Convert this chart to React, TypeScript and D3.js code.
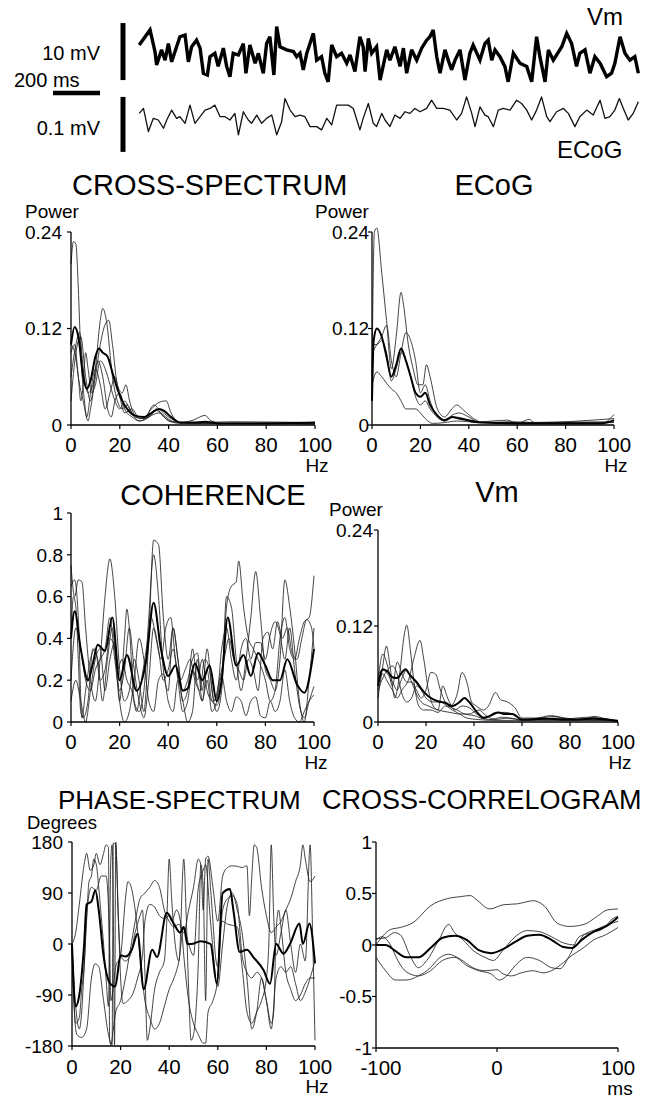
import React from 'react';
import * as d3 from 'd3';

type Pt = [number, number];
const FONT = '"Liberation Sans", Arial, Helvetica, sans-serif';

// ---------- top raw traces (time in ms, Vm in mV, ECoG in µV) ----------
const vmTrace: Pt[] = [
  [1,1.75],[47,4.4],[68,0.6],[75,-1.75],[96,0.9],[111,-0.9],[125,2.0],[139,-1.2],[160,1.45],[174,3.2],
  [196,3.5],[210,-1.2],[224,1.45],[245,2.6],[260,1.2],[274,-3.2],[291,-3.5],[302,-0.3],[323,0.3],[337,-2.0],
  [359,1.2],[373,-2.0],[387,-3.8],[401,0.3],[423,0],[444,2.0],[455,-3.2],[472,1.75],[494,-1.45],[508,0.3],
  [529,-3.2],[543,2.0],[557,3.2],[574,-3.5],[586,5.0],[600,1.45],[628,0.9],[657,0.6],[671,-0.3],[685,0.3],
  [699,-2.6],[714,0.3],[742,3.8],[756,-0.9],[777,-0.3],[791,-3.2],[805,-4.7],[820,1.75],[841,-0.3],[862,0.3],
  [884,-1.45],[898,0],[919,-2.9],[940,3.2],[954,1.45],[962,-2.9],[976,2.9],[990,0.3],[1011,1.45],[1026,-4.4],
  [1054,0.9],[1068,-0.9],[1089,1.45],[1111,-2.0],[1125,1.2],[1139,-3.2],[1160,0.9],[1182,-0.9],[1203,1.2],[1224,2.6],
  [1238,3.2],[1252,4.4],[1267,-0.3],[1281,-3.2],[1302,0.9],[1316,-0.9],[1330,-2.6],[1345,-0.9],[1366,0.9],[1387,-4.4],
  [1408,0.3],[1422,1.75],[1451,-0.9],[1472,2.0],[1486,2.6],[1501,-0.9],[1515,0.9],[1536,-0.3],[1557,-2.0],[1571,-4.7],
  [1593,0.3],[1621,-1.45],[1650,-2.0],[1671,-4.7],[1692,3.2],[1706,-0.3],[1728,-4.7],[1742,0.9],[1763,-0.9],[1799,1.45],
  [1820,3.8],[1841,2.0],[1862,-2.0],[1876,0.3],[1898,0.9],[1919,-3.2],[1940,-0.3],[1962,-1.45],[1990,-3.8],[2011,-3.2],
  [2025,-1.45],[2047,3.2],[2068,0.3],[2089,-0.9],[2110,-0.3],[2125,-3.2],
];

const ecogTrace: Pt[] = [
  [1,12],[19,21],[40,-21],[61,3],[82,0],[104,-15],[118,0],[139,18],[160,3],[174,6],
  [196,-6],[217,27],[238,-6],[260,6],[281,18],[302,21],[323,27],[345,6],[366,6],[387,0],
  [408,12],[423,-27],[444,15],[465,0],[479,-6],[501,9],[522,-6],[543,3],[565,9],[586,-27],
  [607,-3],[621,39],[643,18],[664,6],[685,9],[706,6],[728,-12],[756,-12],[777,-18],[799,3],
  [820,-9],[841,27],[869,27],[891,27],[912,21],[940,-18],[954,3],[976,30],[997,-6],[1011,-12],
  [1033,12],[1047,0],[1068,-12],[1089,9],[1111,3],[1132,15],[1153,12],[1174,21],[1196,15],[1224,21],
  [1245,36],[1267,21],[1295,21],[1323,18],[1352,0],[1373,12],[1394,42],[1416,12],[1430,-12],[1451,24],
  [1472,9],[1486,6],[1508,-12],[1529,18],[1550,21],[1579,18],[1607,36],[1628,30],[1650,18],[1671,0],
  [1692,18],[1713,42],[1735,6],[1749,-3],[1777,15],[1806,21],[1827,12],[1855,-12],[1876,6],[1905,18],
  [1933,9],[1962,36],[1983,3],[2004,6],[2025,18],[2044,39],[2061,21],[2082,0],[2103,12],[2125,33],
];

// ---------- CROSS-SPECTRUM (Hz, power) ----------
const cs1: Pt[] = [[0,0.2],[1,0.228],[2,0.225],[3,0.17],[4,0.09],[5.5,0.03],[6.5,0.01],[8,0.04],[10,0.07],[12,0.05],[14,0.02],[16,0.04],[18,0.06],[20,0.035],[22,0.015],[25,0.02],[28,0.008],[32,0.01],[35,0.018],[38,0.012],[42,0.004],[50,0.002],[60,0.002],[100,0.001]];
const cs2: Pt[] = [[0,0.03],[2,0.09],[4,0.11],[6,0.06],[8,0.03],[10,0.07],[12,0.13],[13,0.145],[14.5,0.13],[17,0.06],[19,0.03],[21,0.02],[23,0.025],[26,0.01],[30,0.008],[34,0.025],[36,0.02],[40,0.01],[45,0.003],[60,0.002],[100,0.002]];
const cs3: Pt[] = [[0,0.09],[1.5,0.1],[3,0.06],[5,0.03],[7,0.005],[8,0.02],[10,0.06],[12,0.1],[14,0.125],[15.5,0.13],[17,0.1],[19,0.05],[21,0.04],[22.5,0.05],[24,0.03],[27,0.01],[30,0.01],[33,0.02],[36,0.028],[39,0.03],[41,0.015],[45,0.003],[50,0.006],[55,0.012],[57,0.006],[62,0.002],[100,0.002]];
const cs4: Pt[] = [[0,0.1],[1.5,0.09],[3,0.06],[4,0.03],[5,0.05],[6,0.09],[7,0.07],[8.5,0.04],[10,0.05],[12,0.08],[14,0.07],[16,0.05],[18,0.03],[20,0.02],[22,0.03],[24,0.02],[28,0.005],[32,0.01],[35,0.02],[38,0.01],[42,0.004],[50,0.003],[66,0.004],[100,0.003]];
const cs5: Pt[] = [[0,0.06],[2,0.1],[3.5,0.115],[5,0.07],[7,0.04],[9,0.05],[11,0.08],[13,0.06],[15,0.02],[16.5,0.01],[18,0.03],[20,0.04],[22,0.02],[25,0.01],[28,0.005],[33,0.012],[36,0.015],[40,0.005],[45,0.002],[100,0.003]];
const csMean: Pt[] = [[0,0.1],[1.5,0.122],[3,0.11],[5,0.06],[6.5,0.045],[8,0.055],[10,0.085],[11.5,0.095],[13,0.09],[15,0.085],[17,0.065],[19,0.045],[21,0.03],[23,0.02],[26,0.012],[30,0.01],[33,0.015],[36,0.02],[38,0.018],[41,0.01],[45,0.003],[50,0.003],[55,0.004],[60,0.002],[80,0.002],[100,0.003]];

// ---------- ECoG power spectrum ----------
const eg1: Pt[] = [[0,0.06],[1,0.24],[2,0.245],[4,0.19],[6,0.13],[8,0.07],[10,0.11],[12,0.165],[13,0.15],[15,0.1],[17,0.07],[19,0.05],[21,0.05],[22.5,0.075],[24,0.06],[27,0.02],[30,0.01],[33,0.02],[35,0.025],[38,0.018],[42,0.008],[46,0.003],[100,0.003]];
const eg2: Pt[] = [[0,0.09],[2,0.1],[4,0.11],[6,0.124],[8,0.08],[10,0.06],[12,0.09],[14,0.115],[16,0.105],[18,0.08],[20,0.04],[22,0.05],[24,0.03],[27,0.01],[30,0.005],[34,0.01],[38,0.008],[42,0.003],[100,0.004]];
const eg3: Pt[] = [[0,0.05],[2,0.066],[4,0.06],[6,0.052],[8,0.045],[10,0.04],[12,0.03],[14,0.02],[16,0.02],[18,0.02],[20,0.015],[22,0.008],[25,0.002],[30,0.003],[35,0.005],[40,0.004],[45,0.003],[58,0.004],[66,0.003],[95,0.002],[100,0.013]];
const eg4: Pt[] = [[0,0.1],[2,0.1],[4,0.105],[6,0.09],[8,0.055],[10,0.07],[12,0.09],[14,0.08],[16,0.06],[18,0.035],[20,0.025],[22,0.03],[24,0.02],[27,0.01],[30,0.005],[33,0.012],[36,0.015],[40,0.01],[44,0.004],[56,0.006],[60,0.002],[65,0.007],[67,0.003],[100,0.008]];
const egMean: Pt[] = [[0,0.03],[0.7,0.105],[2,0.12],[4,0.11],[6,0.085],[8,0.06],[10,0.075],[12,0.095],[14,0.08],[16,0.06],[18,0.04],[20,0.035],[22,0.04],[24,0.025],[27,0.012],[30,0.006],[33,0.01],[36,0.008],[40,0.006],[45,0.003],[60,0.002],[95,0.002],[100,0.006]];

// ---------- COHERENCE ----------
const co1: Pt[] = [[0,0.75],[1.5,0.6],[3,0.68],[4.5,0.67],[6,0.45],[8,0.2],[10,0.1],[12,0.3],[14,0.6],[16,0.78],[18,0.6],[20,0.25],[22,0.1],[24,0.15],[26,0.3],[28,0.2],[30,0.05],[32,0.4],[34,0.87],[36,0.85],[38,0.5],[40,0.3],[42,0.45],[44,0.3],[46,0.1],[48,0.15],[50,0.35],[52,0.2],[54,0.3],[56,0.15],[58,0.1],[60,0.08],[62,0.2],[64,0.55],[66,0.65],[68,0.67],[69,0.77],[71,0.55],[73,0.4],[75,0.35],[77,0.3],[80,0.2],[82,0.1],[84,0.15],[86,0.4],[88,0.5],[90,0.35],[92,0.3],[94,0.4],[96,0.48],[98,0.5],[100,0.7]];
const co2: Pt[] = [[0,0.1],[2,0.2],[4,0.1],[6,0.0],[8,0.15],[10,0.3],[12,0.35],[14,0.15],[16,0.3],[18,0.38],[20,0.1],[22,0.0],[24,0.05],[26,0.2],[28,0.4],[30,0.3],[32,0.1],[34,0.05],[36,0.2],[38,0.23],[40,0.1],[42,0.05],[44,0.2],[46,0.1],[48,0.0],[50,0.05],[52,0.3],[54,0.1],[56,0.2],[58,0.05],[60,0.1],[62,0.22],[64,0.1],[66,0.05],[68,0.12],[70,0.1],[72,0.03],[74,0.1],[76,0.12],[78,0.03],[80,0.02],[82,0.1],[84,0.05],[86,0.1],[88,0.25],[90,0.1],[92,0.02],[94,0.0],[96,0.05],[98,0.1],[100,0.13]];
const co3: Pt[] = [[0,0.65],[1.5,0.68],[3,0.5],[4.5,0.02],[6,0.15],[8,0.3],[10,0.35],[12,0.2],[14,0.25],[16,0.4],[18,0.35],[20,0.1],[22,0.4],[23,0.54],[24,0.45],[26,0.1],[28,0.05],[30,0.15],[32,0.5],[34,0.8],[36,0.6],[38,0.25],[40,0.15],[42,0.45],[44,0.3],[46,0.15],[48,0.2],[50,0.3],[52,0.33],[54,0.15],[56,0.35],[58,0.15],[60,0.05],[62,0.15],[64,0.6],[66,0.55],[68,0.3],[70,0.15],[72,0.3],[74,0.5],[76,0.72],[78,0.5],[80,0.25],[82,0.2],[84,0.15],[86,0.3],[88,0.68],[90,0.55],[92,0.35],[94,0.1],[96,0.0],[98,0.2],[100,0.45]];
const co4: Pt[] = [[0,0.2],[2,0.45],[4,0.35],[6,0.2],[8,0.15],[10,0.25],[12,0.3],[14,0.35],[16,0.5],[18,0.3],[20,0.15],[22,0.25],[24,0.45],[26,0.25],[28,0.1],[30,0.02],[32,0.2],[34,0.45],[36,0.35],[38,0.2],[40,0.25],[42,0.35],[44,0.2],[46,0.05],[48,0.1],[50,0.25],[52,0.18],[54,0.1],[56,0.25],[58,0.1],[60,0.12],[62,0.35],[64,0.45],[66,0.3],[68,0.2],[70,0.35],[72,0.4],[74,0.3],[76,0.38],[78,0.38],[80,0.3],[82,0.42],[84,0.48],[86,0.42],[88,0.3],[90,0.45],[92,0.25],[94,0.08],[96,0.02],[98,0.1],[100,0.17]];
const co5: Pt[] = [[0,0.4],[1,0.6],[2,0.55],[3,0.3],[4,0.05],[5,0.02],[7,0.1],[9,0.35],[11,0.3],[13,0.1],[15,0.3],[17,0.45],[19,0.25],[21,0.3],[23,0.2],[25,0.15],[27,0.05],[29,0.2],[31,0.35],[33,0.5],[35,0.4],[37,0.3],[39,0.45],[41,0.5],[43,0.3],[45,0.2],[47,0.25],[49,0.3],[51,0.2],[53,0.15],[55,0.3],[57,0.25],[59,0.1],[61,0.2],[63,0.3],[65,0.4],[67,0.3],[69,0.25],[71,0.2],[73,0.3],[75,0.25],[77,0.15],[79,0.4],[81,0.43],[83,0.35],[85,0.48],[87,0.4],[89,0.45],[91,0.33],[93,0.3],[95,0.4],[97,0.49],[99,0.45],[100,0.35]];
const coMean: Pt[] = [[0,0.4],[1.5,0.53],[4,0.35],[7,0.2],[9,0.28],[11,0.37],[14,0.34],[17,0.5],[20,0.2],[23,0.32],[27,0.15],[31,0.3],[34,0.57],[37,0.35],[40,0.22],[43,0.27],[46,0.15],[48,0.16],[51,0.28],[54,0.2],[57,0.27],[60,0.1],[62,0.2],[64.5,0.5],[68,0.27],[71,0.32],[74,0.22],[77,0.33],[80,0.27],[83,0.2],[86,0.2],[89,0.3],[93,0.18],[96,0.14],[100,0.35]];

// ---------- Vm power spectrum ----------
const vp1: Pt[] = [[0,0.03],[2,0.07],[3.5,0.095],[5,0.07],[7,0.03],[9,0.06],[11,0.11],[12,0.121],[13.5,0.09],[15,0.05],[17,0.02],[19,0.015],[22,0.015],[25,0.012],[28,0.02],[31,0.015],[34,0.01],[37,0.005],[42,0.003],[48,0.002],[60,0.002],[70,0.004],[75,0.005],[80,0.003],[90,0.004],[100,0.001]];
const vp2: Pt[] = [[0,0.05],[2,0.06],[4,0.05],[6,0.04],[8,0.03],[10,0.04],[13,0.055],[15,0.08],[17.5,0.102],[19,0.08],[21,0.04],[23,0.02],[25,0.015],[27,0.045],[29,0.03],[32,0.015],[35,0.02],[38,0.018],[41,0.01],[45,0.006],[49,0.012],[53,0.012],[56,0.01],[60,0.003],[70,0.006],[74,0.007],[78,0.004],[88,0.006],[92,0.005],[100,0.001]];
const vp3: Pt[] = [[0,0.05],[2,0.085],[4,0.07],[6,0.045],[8,0.075],[10,0.06],[12,0.05],[14,0.05],[16,0.04],[18,0.03],[20,0.04],[22,0.062],[24,0.06],[26,0.04],[28,0.025],[30,0.02],[33,0.035],[35,0.062],[37,0.05],[39,0.025],[41,0.02],[44,0.015],[46,0.02],[49,0.037],[51,0.028],[54,0.025],[57,0.018],[60,0.005],[66,0.005],[72,0.008],[76,0.006],[85,0.003],[90,0.007],[95,0.004],[100,0.002]];
const vp4: Pt[] = [[0,0.04],[2,0.055],[4,0.065],[6,0.07],[8,0.06],[10,0.035],[12,0.025],[14,0.03],[16,0.045],[18,0.04],[20,0.03],[23,0.025],[26,0.025],[29,0.02],[33,0.015],[36,0.01],[40,0.008],[44,0.004],[48,0.003],[55,0.005],[60,0.002],[100,0.002]];
const vp5: Pt[] = [[0,0.06],[2,0.065],[4,0.06],[6,0.05],[8,0.04],[10,0.055],[12,0.065],[14,0.05],[16,0.035],[18,0.025],[21,0.02],[25,0.015],[30,0.012],[34,0.01],[38,0.01],[42,0.015],[45,0.008],[48,0.004],[52,0.006],[56,0.004],[60,0.003],[100,0.002]];
const vpMean: Pt[] = [[0,0.045],[2,0.066],[4,0.063],[6,0.056],[8,0.055],[10,0.062],[11.5,0.066],[13,0.06],[16,0.05],[19,0.038],[22,0.03],[25,0.026],[28,0.024],[31,0.02],[34,0.025],[36,0.03],[38,0.025],[41,0.013],[44,0.005],[47,0.008],[50,0.012],[53,0.01],[56,0.01],[60,0.003],[70,0.004],[80,0.003],[90,0.004],[100,0.001]];

// ---------- PHASE-SPECTRUM (degrees) ----------
const ph1: Pt[] = [[0,0],[1.5,20],[3,70],[5,140],[6,160],[7.5,130],[9,140],[10,160],[11.5,140],[13,160],[14,175],[15,170],[15.5,-170],[16,-178],[17,-150],[18,-120],[20,-100],[22,-60],[24,-10],[26,40],[28,80],[30,90],[32,100],[34,112],[36,100],[38,60],[40,40],[42,30],[44,35],[46,20],[48,60],[50,100],[52,150],[53,140],[54,60],[55,150],[56,155],[58,100],[60,40],[62,120],[64,135],[66,138],[68,137],[70,135],[72,138],[73,50],[74,120],[75,175],[76,170],[78,100],[80,50],[82,20],[84,30],[86,40],[88,60],[90,80],[92,110],[94,140],[95,175],[96,150],[98,110],[100,120]];
const ph2: Pt[] = [[0,0],[1,-120],[2,-160],[4,-165],[6,-150],[8,-60],[9.5,-35],[11,-40],[13,-100],[15,-160],[16.5,-178],[17,178],[18,175],[19,60],[20,-60],[21,-105],[23,-100],[25,-88],[27,-60],[29,-20],[30,40],[32,70],[34,65],[36,50],[38,45],[40,50],[41,40],[43,60],[45,30],[46,-20],[48,-100],[50,-140],[52,-160],[54,-175],[55,-175],[56,-120],[58,-100],[60,-60],[62,60],[64,80],[66,85],[68,70],[70,-20],[72,-50],[74,-60],[76,-50],[78,-60],[80,-100],[82,-140],[83,-120],[84,20],[85,60],[86,30],[88,-50],[90,-80],[92,-100],[94,-90],[96,-70],[98,-60],[100,-60]];
const ph3: Pt[] = [[0,0],[1,-80],[2,-130],[3,-150],[4,-120],[5,-40],[6,40],[7,110],[8,120],[9,150],[10,140],[11,100],[12,50],[13,0],[14,-60],[15,-110],[16,150],[16.5,175],[17,60],[17.5,-178],[18,180],[19,50],[20,-20],[22,-30],[24,-20],[26,20],[28,50],[29,60],[30,-50],[31,-170],[32,-150],[34,-80],[36,-50],[38,-30],[39,40],[40,150],[41,80],[42,20],[44,-30],[46,150],[47,50],[48,-80],[49,-170],[50,-160],[51,-120],[52,-30],[53,140],[54,100],[55,-100],[56,150],[57,100],[58,40],[59,-20],[60,-40],[61,30],[62,40],[64,35],[66,33],[68,30],[70,-40],[72,-120],[74,-140],[76,-120],[78,-100],[80,-60],[81,0],[82,175],[83,50],[84,-20],[86,20],[88,60],[90,0],[92,-50],[94,0],[96,-30],[98,175],[99,20],[100,-170]];
const ph4: Pt[] = [[0,0],[1.5,-140],[3,-130],[4,-80],[5,-40],[6,50],[8,100],[10,95],[12,120],[14,120],[15.5,0],[16,-100],[18,-40],[20,-20],[22,80],[23,110],[24,105],[26,60],[28,-20],[30,-100],[32,-130],[34,-150],[36,-140],[38,-110],[40,-80],[42,-60],[44,-30],[46,30],[48,0],[50,-20],[52,100],[54,130],[55,140],[57,40],[60,-75],[62,0],[64,70],[66,90],[68,60],[70,20],[72,-60],[74,-150],[76,-120],[78,-60],[80,-100],[82,-150],[84,-60],[86,-40],[88,-50],[90,-40],[92,-70],[94,-100],[96,-85],[98,-60],[100,-30]];
const phMean: Pt[] = [[0,0],[1.5,-110],[3,-90],[5,0],[6,70],[8,75],[9.6,95],[11,60],[13,-22],[15.7,-70],[17.8,-75],[20,-20],[22,-22],[24.6,-10],[27,18],[29.5,-80],[33,-10],[35,-23],[39,55],[42,35],[44.5,20],[46,30],[47.5,0],[49,0],[53,5],[57,0],[59.6,-70],[62,90],[65,97],[66.4,60],[69,-14],[72,-10],[74.6,-23],[78.8,-46],[81.5,-70],[84,0],[87,-17],[89.7,0],[93.6,36],[95,0],[97.7,36],[100,-34]];

// ---------- CROSS-CORRELOGRAM (ms, r) ----------
const cc1: Pt[] = [[-100,0.0],[-88,0.15],[-80,0.17],[-69,0.22],[-55,0.38],[-41,0.45],[-30,0.47],[-22,0.48],[-17,0.44],[-6,0.35],[5,0.39],[17,0.4],[30,0.43],[39,0.38],[50,0.21],[60,0.18],[72,0.2],[83,0.28],[91,0.34],[100,0.35]];
const cc2: Pt[] = [[-100,-0.12],[-92,-0.25],[-84,-0.34],[-75,-0.34],[-65,-0.3],[-55,-0.22],[-48,-0.13],[-40,-0.09],[-30,-0.14],[-20,-0.22],[-10,-0.25],[0,-0.24],[5,-0.28],[12,-0.3],[20,-0.27],[30,-0.25],[38,-0.27],[45,-0.25],[55,-0.17],[62,-0.1],[70,-0.04],[80,0.05],[90,0.1],[100,0.17]];
const cc3: Pt[] = [[-100,0.05],[-95,0.08],[-88,0.0],[-82,-0.15],[-75,-0.26],[-65,-0.3],[-55,-0.25],[-45,-0.15],[-35,-0.12],[-25,-0.2],[-15,-0.25],[-5,-0.28],[2,-0.34],[8,-0.3],[15,-0.2],[25,-0.12],[35,-0.15],[45,-0.22],[52,-0.23],[60,-0.1],[68,0.08],[78,0.12],[88,0.16],[95,0.25],[100,0.28]];
const cc4: Pt[] = [[-100,0.06],[-92,0.07],[-85,0.12],[-80,0.1],[-72,-0.1],[-65,-0.22],[-58,-0.15],[-48,0.05],[-40,0.2],[-35,0.12],[-28,0.05],[-20,-0.05],[-10,-0.12],[-3,-0.15],[5,-0.05],[15,0.08],[25,0.14],[35,0.13],[45,0.08],[55,0.02],[65,0.0],[72,0.1],[82,0.15],[92,0.2],[100,0.23]];
const ccMean: Pt[] = [[-100,0.0],[-92,0.0],[-85,-0.05],[-75,-0.12],[-65,-0.12],[-55,-0.03],[-45,0.07],[-35,0.09],[-25,0.05],[-15,-0.05],[-5,-0.08],[5,-0.04],[15,0.03],[25,0.09],[35,0.1],[45,0.05],[55,-0.02],[62,-0.03],[70,0.05],[80,0.13],[90,0.18],[100,0.27]];

// tick values
const hzTicks = [0, 20, 40, 60, 80, 100];
const powerTicks = [0, 0.12, 0.24];
const cohTicks = [0, 0.2, 0.4, 0.6, 0.8, 1];
const degTicks = [-180, -90, 0, 90, 180];
const corrTicks = [-1, -0.5, 0, 0.5, 1];
const msTicks = [-100, 0, 100];

type PanelProps = {
  x0: number; x1: number; yTop: number; yBot: number;
  xDomain: [number, number]; yDomain: [number, number];
  xTicks: number[]; yTicks: number[];
  series: Pt[][]; mean: Pt[];
  gap: number; unit: string; xLabelDy?: number;
};

function Panel(p: PanelProps) {
  const x = d3.scaleLinear().domain(p.xDomain).range([p.x0, p.x1]);
  const y = d3.scaleLinear().domain(p.yDomain).range([p.yBot, p.yTop]);
  const line = d3.line<Pt>().x(d => x(d[0])).y(d => y(d[1])).curve(d3.curveMonotoneX);
  const fmt = (v: number) => String(v);
  return (
    <g>
      {p.series.map((s, i) => (
        <path key={i} d={line(s) || ''} fill="none" stroke="#222" strokeWidth={0.85} />
      ))}
      <path d={line(p.mean) || ''} fill="none" stroke="#000" strokeWidth={2} />
      <line x1={p.x0} x2={p.x0} y1={p.yTop} y2={p.yBot} stroke="#000" strokeWidth={1.3} />
      <line x1={p.x0} x2={p.x1} y1={p.yBot} y2={p.yBot} stroke="#000" strokeWidth={1.3} />
      {p.yTicks.map(t => (
        <g key={'y' + t}>
          <line x1={p.x0 - 4} x2={p.x0} y1={y(t)} y2={y(t)} stroke="#000" strokeWidth={1.2} />
          <text x={p.x0 - p.gap} y={y(t)} dy="0.36em" textAnchor="end" fontSize={19}>{fmt(t)}</text>
        </g>
      ))}
      {p.xTicks.map(t => (
        <g key={'x' + t}>
          <line x1={x(t)} x2={x(t)} y1={p.yBot} y2={p.yBot + 4} stroke="#000" strokeWidth={1.2} />
          <text x={x(t) + (t < 0 ? 5 : 0)} y={p.yBot + (p.xLabelDy ?? 27)} textAnchor="middle" fontSize={20.5}>{fmt(t)}</text>
        </g>
      ))}
      <text x={p.x1 + 2} y={p.yBot + 47} textAnchor="middle" fontSize={19}>{p.unit}</text>
    </g>
  );
}

function Traces() {
  const t = d3.scaleLinear().domain([0, 2132]).range([139, 640]);
  const vmY = d3.scaleLinear().domain([-5, 5]).range([83.5, 26.5]);
  const ecY = d3.scaleLinear().domain([-50, 50]).range([147.5, 92.5]);
  const vmLine = d3.line<Pt>().x(d => t(d[0])).y(d => vmY(d[1])).curve(d3.curveLinear);
  const ecLine = d3.line<Pt>().x(d => t(d[0])).y(d => ecY(d[1])).curve(d3.curveLinear);
  const barLen = t(200) - t(0);
  return (
    <g>
      <path d={vmLine(vmTrace) || ''} fill="none" stroke="#000" strokeWidth={3.4} strokeLinejoin="miter" strokeMiterlimit={3} />
      <path d={ecLine(ecogTrace) || ''} fill="none" stroke="#111" strokeWidth={1.3} strokeLinejoin="round" />
      {/* scale bars */}
      <line x1={123} x2={123} y1={vmY(-4.4)} y2={vmY(5.6)} stroke="#000" strokeWidth={5} />
      <line x1={123} x2={123} y1={ecY(-58)} y2={ecY(42)} stroke="#000" strokeWidth={5} />
      <line x1={100 - barLen} x2={100} y1={93} y2={93} stroke="#000" strokeWidth={4.5} />
      <text x={100} y={60} textAnchor="end" fontSize={20}>10 mV</text>
      <text x={14} y={87} fontSize={20}>200 ms</text>
      <text x={100} y={135} textAnchor="end" fontSize={20}>0.1 mV</text>
      <text x={587} y={25} fontSize={24}>Vm</text>
      <text x={557} y={158} fontSize={24}>ECoG</text>
    </g>
  );
}

export default function App() {
  return (
    <svg width={661} height={1098} viewBox="0 0 661 1098"
      style={{ position: 'absolute', left: 0, top: 0, background: '#fff' }}
      fontFamily={FONT} fill="#000">
      <rect x={0} y={0} width={661} height={1098} fill="#fff" />
      <Traces />

      {/* titles */}
      <text x={72} y={195} fontSize={29}>CROSS-SPECTRUM</text>
      <text x={494} y={195} fontSize={29} textAnchor="middle">ECoG</text>
      <text x={213} y={505} fontSize={29} textAnchor="middle">COHERENCE</text>
      <text x={497} y={502} fontSize={29} textAnchor="middle">Vm</text>
      <text x={58} y={809} fontSize={26}>PHASE-SPECTRUM</text>
      <text x={322} y={809} fontSize={27}>CROSS-CORRELOGRAM</text>

      {/* axis unit labels */}
      <text x={25} y={218} fontSize={19}>Power</text>
      <text x={315} y={218} fontSize={19}>Power</text>
      <text x={329} y={516} fontSize={19}>Power</text>
      <text x={27} y={829} fontSize={18.5}>Degrees</text>

      <Panel x0={71} x1={315} yTop={232} yBot={425} xDomain={[0, 100]} yDomain={[0, 0.24]}
        xTicks={hzTicks} yTicks={powerTicks} series={[cs1, cs2, cs3, cs4, cs5]} mean={csMean} gap={9} unit="Hz" />
      <Panel x0={372} x1={614} yTop={232} yBot={425} xDomain={[0, 100]} yDomain={[0, 0.24]}
        xTicks={hzTicks} yTicks={powerTicks} series={[eg1, eg2, eg3, eg4]} mean={egMean} gap={3} unit="Hz" />
      <Panel x0={71} x1={314} yTop={513} yBot={722} xDomain={[0, 100]} yDomain={[0, 1]}
        xTicks={hzTicks} yTicks={cohTicks} series={[co1, co2, co3, co4, co5]} mean={coMean} gap={8} unit="Hz" />
      <Panel x0={378} x1={618} yTop={530} yBot={722} xDomain={[0, 100]} yDomain={[0, 0.24]}
        xTicks={hzTicks} yTicks={powerTicks} series={[vp1, vp2, vp3, vp4, vp5]} mean={vpMean} gap={5} unit="Hz" />
      <Panel x0={72} x1={315} yTop={842} yBot={1046} xDomain={[0, 100]} yDomain={[-180, 180]}
        xTicks={hzTicks} yTicks={degTicks} series={[ph1, ph2, ph3, ph4]} mean={phMean} gap={9} unit="Hz" xLabelDy={28} />
      <Panel x0={376} x1={618} yTop={842} yBot={1048} xDomain={[-100, 100]} yDomain={[-1, 1]}
        xTicks={msTicks} yTicks={corrTicks} series={[cc1, cc2, cc3, cc4]} mean={ccMean} gap={4} unit="ms" />
    </svg>
  );
}
